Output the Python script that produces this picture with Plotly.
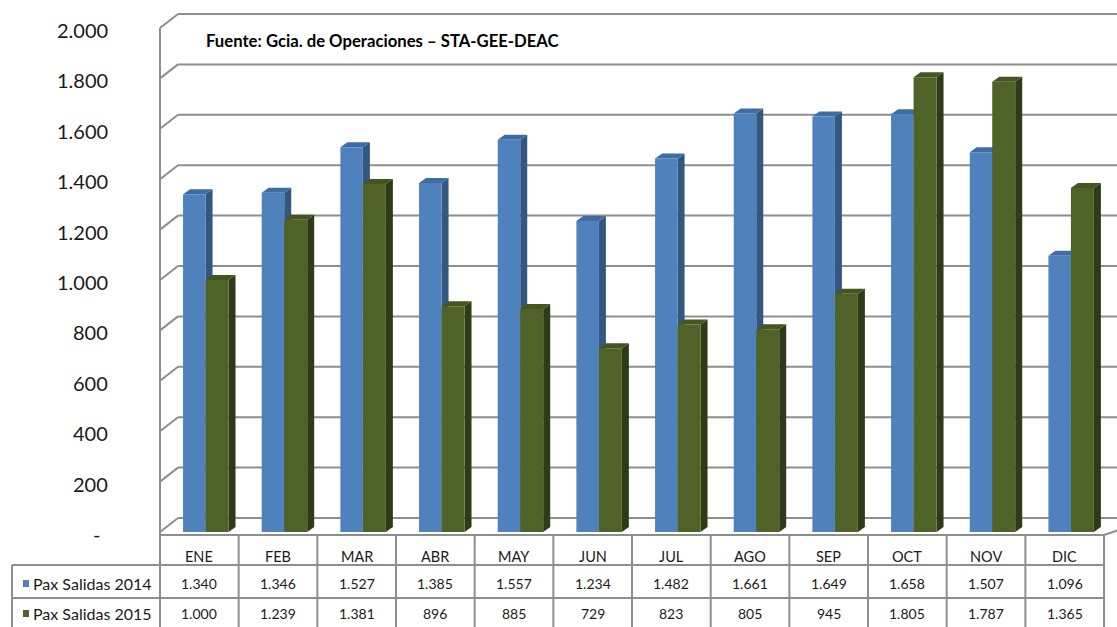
import plotly.graph_objects as go

# datos
meses = ["ENE", "FEB", "MAR", "ABR", "MAY", "JUN", "JUL", "AGO", "SEP", "OCT", "NOV", "DIC"]
pax_2014 = [1340, 1346, 1527, 1385, 1557, 1234, 1482, 1661, 1649, 1658, 1507, 1096]
pax_2015 = [1000, 1239, 1381, 896, 885, 729, 823, 805, 945, 1805, 1787, 1365]
serie_2014 = "Pax Salidas 2014"
serie_2015 = "Pax Salidas 2015"
ticks_y = list(range(0, 2001, 200))
fuente = "Fuente: Gcia. de Operaciones – STA-GEE-DEAC"

# colores
azul, azul_lado, azul_tapa = "#4F81BD", "#34577F", "#3E6CA3"
verde, verde_lado, verde_tapa = "#4F6228", "#2F3B17", "#44551F"
gris = "#8E8E8E"
FONT = "Lato"

# geometria (pixeles de la ventana)
W, H = 1117, 627
COL = 78.67   # ancho de cada mes
X0 = 160      # borde izquierdo del primer mes
Y0 = 532      # linea base
K = 0.252     # px por pasajero
PROF_X, PROF_Y = 18, 14   # profundidad de la pared del fondo
DX = 7 / COL              # profundidad de cada barra
DY = 5 / K


def xd(px):
    return (px - X0) / COL - 0.5


def yd(py):
    return (Y0 - py) / K


def fmt(v):
    return f"{v:,}".replace(",", ".") if v else "-"


fig = go.Figure()

x_idx = list(range(len(meses)))
fig.add_bar(x=x_idx, y=pax_2014, offset=-0.207, width=0.286, name=serie_2014,
            marker=dict(color=azul, line_width=0))
fig.add_bar(x=x_idx, y=pax_2015, offset=0.079, width=0.292, name=serie_2015,
            marker=dict(color=verde, line_width=0))

shapes = []


def linea(x0, y0, x1, y1, **kw):
    shapes.append(dict(type="line", xref="x", yref="y", x0=x0, y0=y0, x1=x1, y1=y1,
                       line=dict(color=gris, width=2), layer="below", **kw))


# pared del fondo y lateral
dy_fondo = PROF_Y / K
for v in ticks_y:
    linea(xd(X0 + PROF_X), v + dy_fondo, xd(W + 5), v + dy_fondo)
    linea(xd(X0), v, xd(X0 + PROF_X), v + dy_fondo)
linea(xd(X0), max(ticks_y), xd(X0), yd(H + 5))

# caras 3d de las barras
def caras(vals, off, wid, c_lado, c_tapa):
    for i, v in enumerate(vals):
        xl = i + off
        xr = xl + wid
        shapes.append(dict(type="path", xref="x", yref="y", layer="below", fillcolor=c_lado,
                           line_width=0,
                           path=f"M{xr},0 L{xr + DX},{DY} L{xr + DX},{v + DY} L{xr},{v} Z"))
        shapes.append(dict(type="path", xref="x", yref="y", layer="below", fillcolor=c_tapa,
                           line_width=0,
                           path=f"M{xl},{v} L{xl + DX},{v + DY} L{xr + DX},{v + DY} L{xr},{v} Z"))


caras(pax_2014, -0.207, 0.286, azul_lado, azul_tapa)
caras(pax_2015, 0.079, 0.292, verde_lado, verde_tapa)

# tabla de datos
x_fin = len(meses) - 0.5
linea(-0.5, yd(535), x_fin, yd(535))
linea(xd(12), yd(565), x_fin, yd(565))
linea(xd(12), yd(598), x_fin, yd(598))
linea(xd(12), yd(565), xd(12), yd(H + 5))
for k in range(1, len(meses) + 1):
    linea(k - 0.5, yd(535), k - 0.5, yd(H + 5))
linea(x_fin, yd(535), xd(W + 5), yd(529))

annotations = []
for v in ticks_y:
    if v:
        annotations.append(dict(x=110 / W, xref="paper", y=v - 2 / K, yref="y", text=fmt(v),
                                xanchor="right", showarrow=False,
                                font=dict(family=FONT, size=20, color="#1a1a1a")))
    else:
        annotations.append(dict(x=97 / W, xref="paper", y=v - 2 / K, yref="y", text=fmt(v),
                                xanchor="center", showarrow=False,
                                font=dict(family=FONT, size=20, color="#1a1a1a")))

annotations.append(dict(x=204 / W, xref="paper", y=yd(41), yref="y", text=f"<b>{fuente}</b>",
                        xanchor="left", showarrow=False,
                        font=dict(family=FONT, size=16.7, color="#000000")))

fila_y = [yd(556), yd(583), yd(613)]
for i, m in enumerate(meses):
    annotations.append(dict(x=i, xref="x", y=fila_y[0], yref="y", text=m, showarrow=False,
                            font=dict(family=FONT, size=14.5, color="#1a1a1a")))
    annotations.append(dict(x=i, xref="x", y=fila_y[1], yref="y", text=fmt(pax_2014[i]),
                            showarrow=False, font=dict(family=FONT, size=14, color="#1a1a1a")))
    annotations.append(dict(x=i, xref="x", y=fila_y[2], yref="y", text=fmt(pax_2015[i]),
                            showarrow=False, font=dict(family=FONT, size=14, color="#1a1a1a")))

for nombre, color, fy, py in [(serie_2014, azul, fila_y[1], 583), (serie_2015, verde, fila_y[2], 613)]:
    shapes.append(dict(type="rect", xref="x", yref="y", x0=xd(23), x1=xd(29),
                       y0=yd(py + 4), y1=yd(py - 3), fillcolor=color, line_width=0))
    annotations.append(dict(x=xd(31), xref="x", y=fy, yref="y", text=nombre, xanchor="left",
                            showarrow=False, font=dict(family=FONT, size=16, color="#1a1a1a")))

fig.update_layout(
    width=W, height=H,
    margin=dict(l=0, r=0, t=0, b=0),
    paper_bgcolor="white", plot_bgcolor="white",
    barmode="overlay", showlegend=False,
    xaxis=dict(range=[xd(0), xd(W)], visible=False, fixedrange=True),
    yaxis=dict(range=[yd(H), yd(0)], visible=False, fixedrange=True),
    shapes=shapes, annotations=annotations,
)

# sin margen del body para que la figura llene la ventana
fig.write_html("out.html", config={"displayModeBar": False},
               post_script="document.body.style.margin = '0';")
